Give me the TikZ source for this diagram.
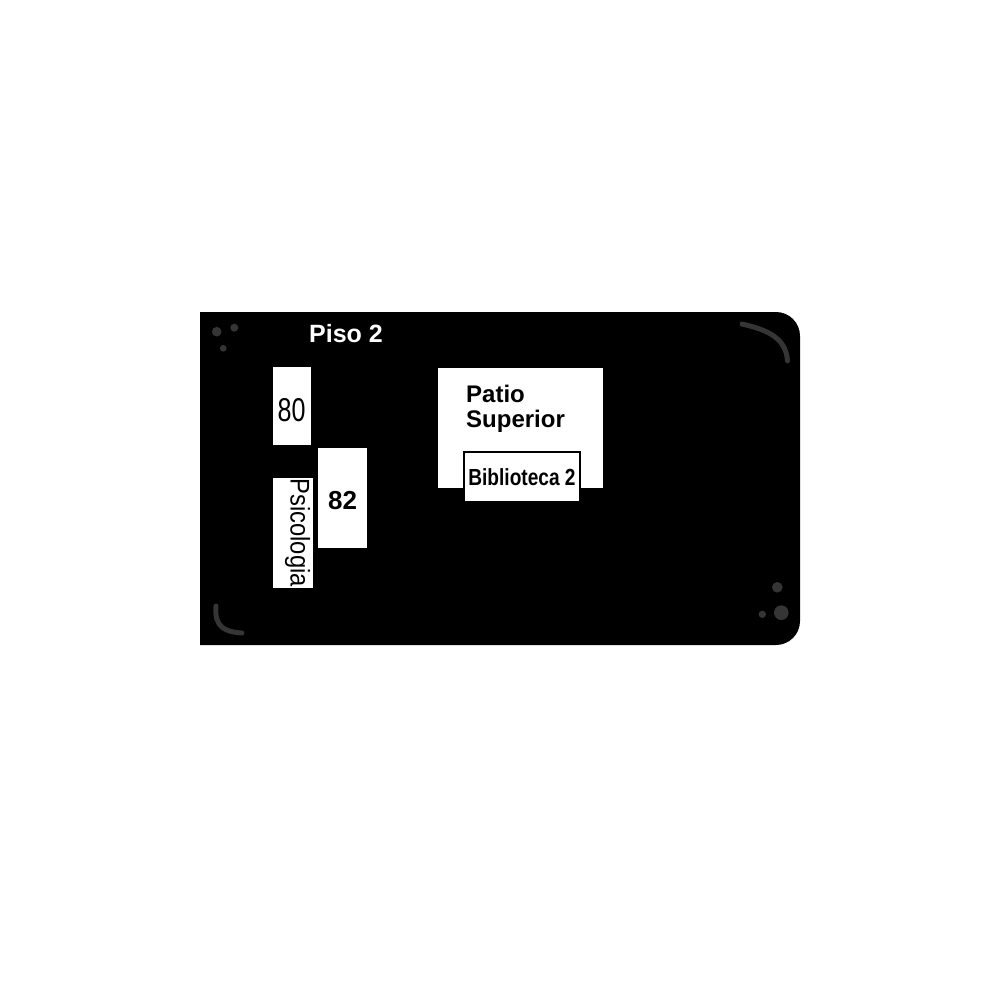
\documentclass[tikz,border=0pt]{standalone}
\usepackage{fontspec}
\setmainfont{Liberation Sans}
\usepackage{graphicx}
\definecolor{deco}{HTML}{353535}
\tikzstyle{room} = [rectangle, fill=white, inner sep=0pt, text centered]
\tikzstyle{lbl} = [inner sep=0pt, text=white, font=\bfseries\fontsize{25}{25}\selectfont]
\tikzstyle{dots} = [fill=deco]
\tikzstyle{stroke} = [draw=deco, line width=5pt, line cap=round]

\begin{document}
\begin{tikzpicture}[x=1pt,y=-1pt]
			\useasboundingbox[fill=white] (0,0) rectangle (1000,1000);
			% floor panel
			\fill[black] (200,645) -- (200,312) [rounded corners=24pt] -- (800,312) -- (800,645) [sharp corners] -- cycle;
			\fill[dots] (216.7,331.7) circle (4.8) (234.3,327.7) circle (4) (223.3,348.3) circle (3.3);
			\fill[dots] (777.3,587.3) circle (5.3) (781.3,612.7) circle (7.3) (762.3,614.3) circle (3.7);
			\draw[stroke] (742,324) .. controls (768,330) and (786,338) .. (787.5,361);
			\draw[stroke] (216,606) .. controls (214,628) and (226,632) .. (242,633);
			
			\node[lbl,anchor=base west](piso) at (309,342.5){Piso 2};
			
			\node[room,minimum width=38,minimum height=78,text height=31pt,text depth=0pt,font=\fontsize{33}{33}\selectfont](r80) at (291.5,406){\scalebox{0.76}[1]{80}};
			\node[room,minimum width=49,minimum height=100,text height=23pt,text depth=0pt,font=\bfseries\fontsize{26}{26}\selectfont](r82) at (342.5,498){82};
			\node[room,minimum width=40,minimum height=110](psico) at (293,533){};
			\node[inner sep=0pt,rotate=-90,anchor=north west,font=\fontsize{27}{27}\selectfont](psicotxt) at (310.5,478.3){\scalebox{0.88}[1]{Psicologia}};
			
			\node[room,minimum width=165,minimum height=120](patio) at (520.5,428){};
			\node[inner sep=0pt,anchor=north west,align=left,font=\bfseries\fontsize{24}{25}\selectfont](patiotxt) at (466,384.5){Patio\\Superior};
			\node[room,draw=black,line width=2pt,minimum width=116,minimum height=50,font=\bfseries\fontsize{23.3}{24}\selectfont](biblio) at (522,477){\scalebox{0.82}[1]{Biblioteca 2}};
			\end{tikzpicture}
\end{document}
